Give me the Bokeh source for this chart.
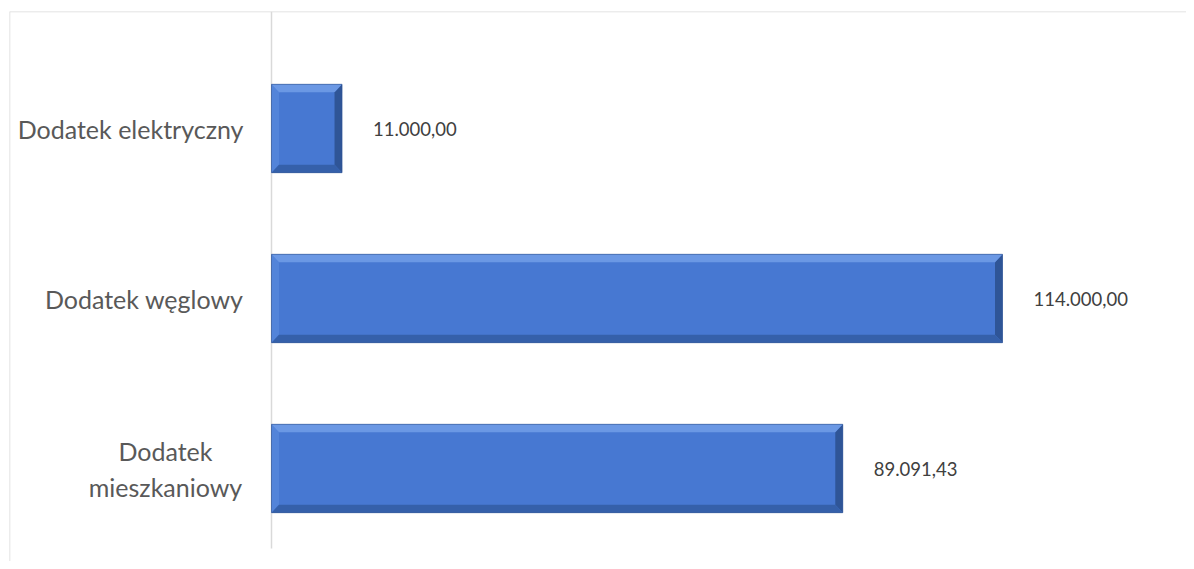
from bokeh.plotting import figure
from bokeh.models import ColumnDataSource
from bokeh.core.properties import value
from bokeh.embed import file_html
from bokeh.resources import INLINE

categories = ["Dodatek\nmieszkaniowy", "Dodatek węglowy", "Dodatek elektryczny"]
values = [89091.43, 114000.00, 11000.00]
value_labels = ["89.091,43", "114.000,00", "11.000,00"]

ypos = list(range(len(categories)))
H = 0.52           # bar thickness (category units)
PX_PER_UNIT = 731.0 / 114000.0
bx = 7.5 / PX_PER_UNIT   # bevel width in data units (x)
by = 8.0 / 170.0         # bevel width in data units (y)

W, HT = 1186, 561
x_start = -262 / PX_PER_UNIT
x_end = (W - 271) / PX_PER_UNIT
y_end = 2 + (128 - 11) / 170.0
y_start = -(HT - 468) / 170.0

p = figure(width=W, height=HT, output_backend="svg", toolbar_location=None,
           x_range=(x_start, x_end), y_range=(y_start, y_end),
           min_border_left=9, min_border_right=0, min_border_top=11, min_border_bottom=0)
p.axis.visible = False
p.grid.visible = False
p.outline_line_color = None
p.background_fill_color = "white"

# frame lines (top / left) and category axis line
p.segment(x0=[x_start, x_start], y0=[y_end, y_end], x1=[x_end, x_start], y1=[y_end, y_start],
          line_color="#d9d9d9", line_width=1.5)
p.segment(x0=[0], y0=[y_end], x1=[0], y1=[-80 / 170.0], line_color="#d9d9d9", line_width=1.5)

# bevelled bars
src = ColumnDataSource(dict(y=ypos, v=values))
p.hbar(y="y", left=0, right="v", height=H, source=src, fill_color="#4778d2", line_color=None)

tops, bottoms, lefts, rights = ([], []), ([], []), ([], []), ([], [])
for y, v in zip(ypos, values):
    t, b = y + H / 2, y - H / 2
    tops[0].append([0, v, v - bx, bx]); tops[1].append([t, t, t - by, t - by])
    bottoms[0].append([0, v, v - bx, bx]); bottoms[1].append([b, b, b + by, b + by])
    lefts[0].append([0, bx, bx, 0]); lefts[1].append([t, t - by, b + by, b])
    rights[0].append([v, v - bx, v - bx, v]); rights[1].append([t, t - by, b + by, b])

p.patches(xs=lefts[0], ys=lefts[1], fill_color="#5384d9", line_color=None)
p.patches(xs=rights[0], ys=rights[1], fill_color="#2f5597", line_color=None)
p.patches(xs=tops[0], ys=tops[1], fill_color="#6b98e4", line_color=None)
p.patches(xs=bottoms[0], ys=bottoms[1], fill_color="#3560aa", line_color=None)
p.hbar(y="y", left=0, right="v", height=H, source=src, fill_color=None,
       line_color="#2f528f", line_width=1, line_alpha=0.6)

# value labels
lsrc = ColumnDataSource(dict(x=values, y=ypos, t=value_labels))
p.text(x="x", y="y", text="t", source=lsrc, x_offset=31, text_align="left",
       text_baseline="middle", text_font=value("Lato"), text_font_size="18.5px",
       text_color="#404040")

# category labels
csrc = ColumnDataSource(dict(x=[0] * len(categories), y=ypos, t=categories,
                             al=["center", "right", "right"],
                             dx=[-106, -28, -28]))
p.text(x="x", y="y", text="t", source=csrc, x_offset="dx", text_align="al",
       text_baseline="middle", text_font=value("Lato"), text_font_size="25px",
       text_color="#595959", text_line_height=1.2)

open("out.html", "w").write(file_html(p, INLINE))
